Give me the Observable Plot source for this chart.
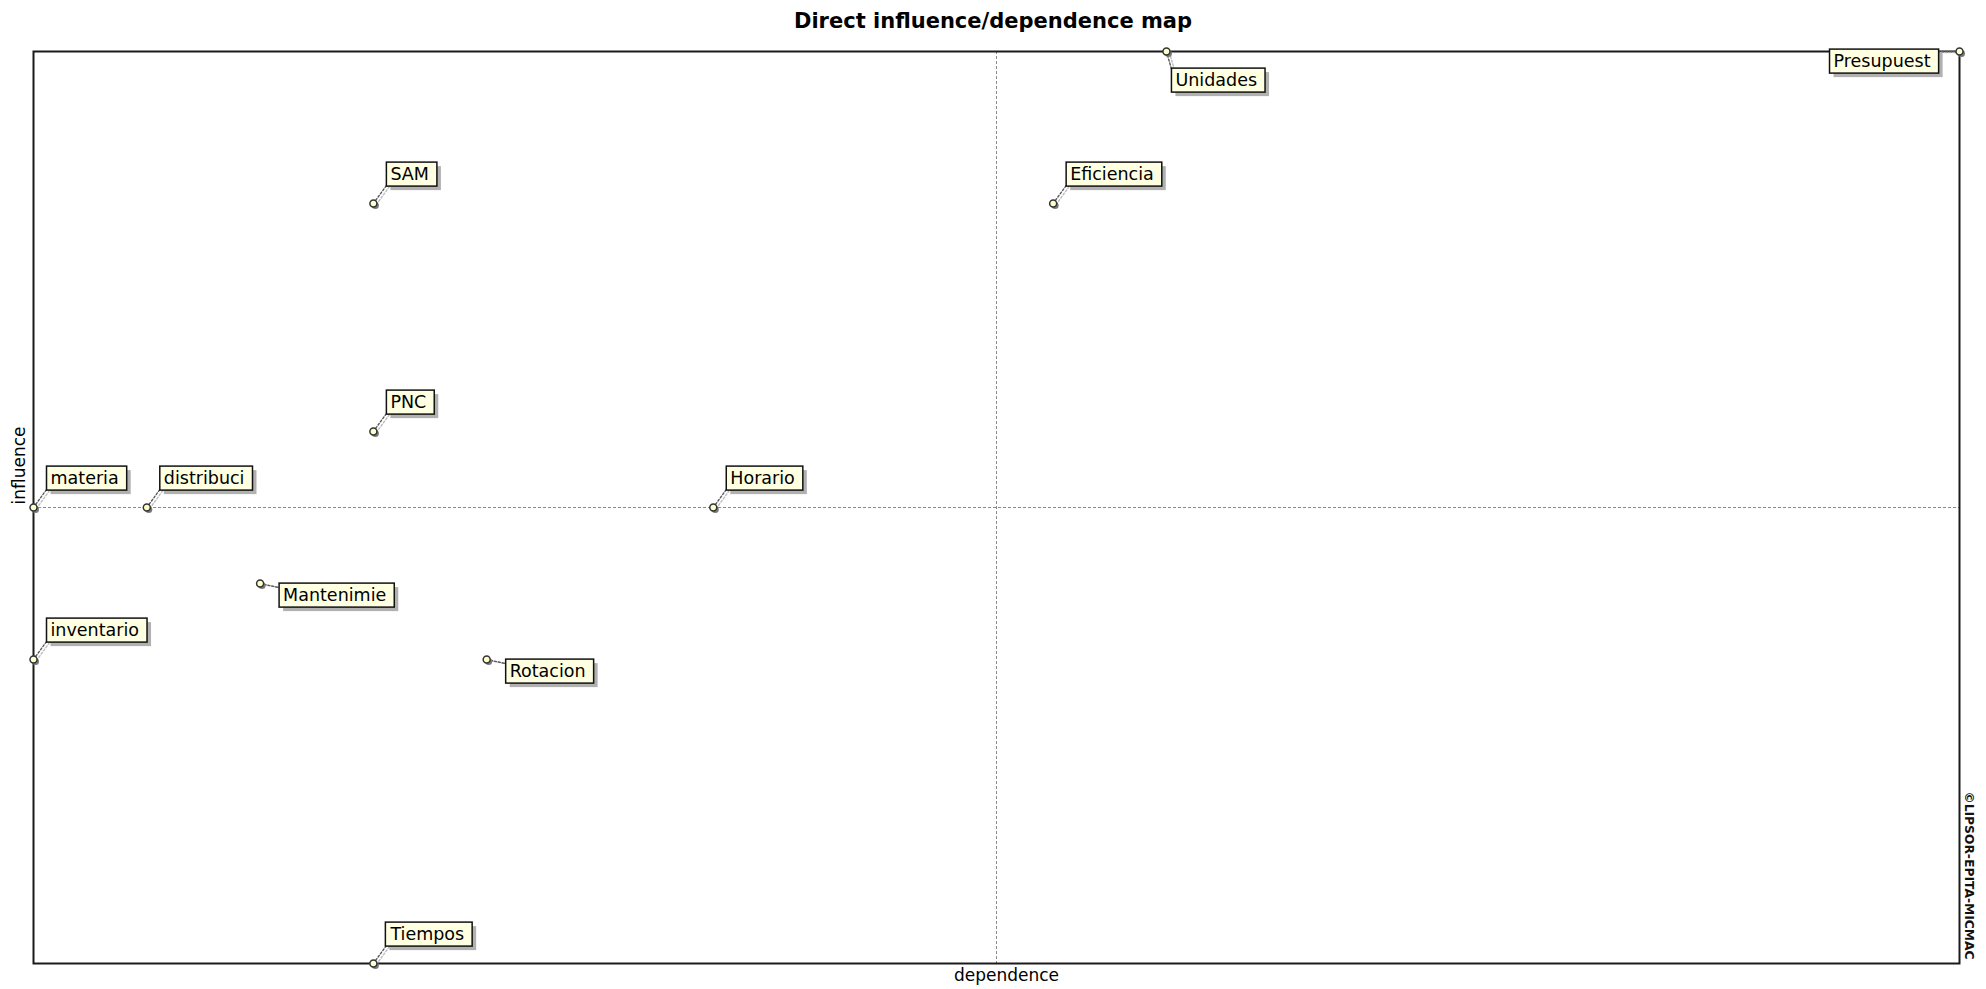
<!DOCTYPE html>
<html><head><meta charset="utf-8">
<script src="https://cdn.jsdelivr.net/npm/d3@7"></script>
<script src="https://cdn.jsdelivr.net/npm/@observablehq/plot@0.6"></script>
<style>
html,body{margin:0;padding:0;background:#fff;}
#title{font:bold 21px "DejaVu Sans";height:40px;line-height:43px;text-align:center;width:1986px;color:#000;}
#chart{width:1986px;}
</style></head><body>
<div id="title">Direct influence/dependence map</div>
<div id="chart"></div>
<script>
// ---- data ----
const variables  = ["Presupuest","Unidades","Eficiencia","SAM","PNC","materia","distribuci","Horario","Mantenimie","inventario","Rotacion","Tiempos"];
const dependence = [17, 10, 9, 3, 3, 0, 1, 6, 2, 0, 4, 3];
const influence  = [12, 12, 10, 10, 7, 6, 6, 6, 5, 4, 4, 0];
const axisTitleX = ["dependence"];
const axisTitleY = ["influence"];
const credit = ["©LIPSOR-EPITA-MICMAC"];

const data = variables.map((name, i) => ({name, dep: dependence[i], inf: influence[i]}));
const midDep = (d3.min(dependence) + d3.max(dependence)) / 2;
const midInf = (d3.min(influence) + d3.max(influence)) / 2;

// label placement (layout only)
const side = {Presupuest: "W", Unidades: "S", Mantenimie: "E", Rotacion: "E"};
const sideOf = d => side[d.name] || "NE";
const layouts = {
  NE: {dx: 17, dy: -29, anchor: "start", rotate: 36, len: 22},
  S:  {dx: 9,  dy: 29,  anchor: "start", rotate: 164, len: 18},
  E:  {dx: 23, dy: 12,  anchor: "start", rotate: 102, len: 19},
  W:  {dx: -29, dy: 10, anchor: "end",   rotate: 270, len: 22}
};
const leaderShape = {draw(ctx, l) { ctx.moveTo(0, 0); ctx.lineTo(0, -l); }};

const leaderMarks = [], labelMarks = [];
for (const k of Object.keys(layouts)) {
  const L = layouts[k];
  const sub = data.filter(d => sideOf(d) === k);
  leaderMarks.push(Plot.vector(sub, {x: "dep", y: "inf", rotate: L.rotate, length: L.len, anchor: "start",
    shape: leaderShape, stroke: "#bdbdbd", strokeWidth: 1.4, strokeDasharray: "2,2", dx: 3, dy: 1}));
  leaderMarks.push(Plot.vector(sub, {x: "dep", y: "inf", rotate: L.rotate, length: L.len, anchor: "start",
    shape: leaderShape, stroke: "#5a5a5a", strokeWidth: 1.4, strokeDasharray: "2,2"}));
  labelMarks.push(Plot.text(sub, {x: "dep", y: "inf", text: "name", dx: L.dx, dy: L.dy, textAnchor: L.anchor,
    lineAnchor: "middle", fontSize: 17.5, fontFamily: "DejaVu Sans", fill: "#000"}));
}

const chart = Plot.plot({
  width: 1986, height: 949,
  marginTop: 11, marginBottom: 26, marginLeft: 33, marginRight: 27,
  x: {domain: [d3.min(dependence), d3.max(dependence)], axis: null},
  y: {domain: [d3.min(influence), d3.max(influence)], axis: null},
  style: {fontFamily: "DejaVu Sans", background: "white"},
  marks: [
    Plot.ruleX([midDep], {stroke: "#8a8a8a", strokeDasharray: "3,2", strokeWidth: 1}),
    Plot.ruleY([midInf], {stroke: "#8a8a8a", strokeDasharray: "3,2", strokeWidth: 1}),
    Plot.frame({stroke: "#1a1a1a", strokeWidth: 2}),
    ...leaderMarks,
    Plot.dot(data, {x: "dep", y: "inf", r: 3.5, fill: "#7a7a7a", dx: 2, dy: 2}),
    Plot.dot(data, {x: "dep", y: "inf", r: 3.5, fill: "#ffffcc", stroke: "#333", strokeWidth: 1.5}),
    ...labelMarks,
    Plot.text(axisTitleX, {frameAnchor: "bottom", dx: 10, dy: 12, textAnchor: "middle", lineAnchor: "middle", fontSize: 17, fontFamily: "DejaVu Sans", fill: "#000"}),
    Plot.text(axisTitleY, {frameAnchor: "left", dx: -14, dy: -42, rotate: -90, textAnchor: "middle", lineAnchor: "middle", fontSize: 17, fontFamily: "DejaVu Sans", fill: "#000"}),
    Plot.text(credit, {frameAnchor: "right", dx: 9, dy: 368, rotate: 90, textAnchor: "middle", lineAnchor: "middle", fontSize: 12.3, fontWeight: "bold", fontFamily: "DejaVu Sans", fill: "#111"})
  ]
});
document.getElementById("chart").append(chart);

// boxes behind the variable labels
const ns = "http://www.w3.org/2000/svg";
const names = new Set(variables);
chart.querySelectorAll("text").forEach(t => {
  if (!names.has(t.textContent)) return;
  const b = t.getBBox();
  const padL = 4, padR = 8, h = 24;
  const cy = b.y + b.height / 2;
  const x = b.x - padL, w = b.width + padL + padR, y = cy - h / 2;
  const sh = document.createElementNS(ns, "rect");
  sh.setAttribute("x", x + 4); sh.setAttribute("y", y + 4);
  sh.setAttribute("width", w); sh.setAttribute("height", h);
  sh.setAttribute("fill", "#7d7d7d"); sh.setAttribute("fill-opacity", "0.6"); sh.setAttribute("stroke", "none");
  const bx = document.createElementNS(ns, "rect");
  bx.setAttribute("x", x); bx.setAttribute("y", y);
  bx.setAttribute("width", w); bx.setAttribute("height", h);
  bx.setAttribute("fill", "#ffffe1"); bx.setAttribute("stroke", "#111"); bx.setAttribute("stroke-width", "1.5");
  if (t.getAttribute("transform")) { sh.setAttribute("transform", t.getAttribute("transform")); bx.setAttribute("transform", t.getAttribute("transform")); }
  t.parentNode.insertBefore(sh, t);
  t.parentNode.insertBefore(bx, t);
});
</script>
</body></html>
